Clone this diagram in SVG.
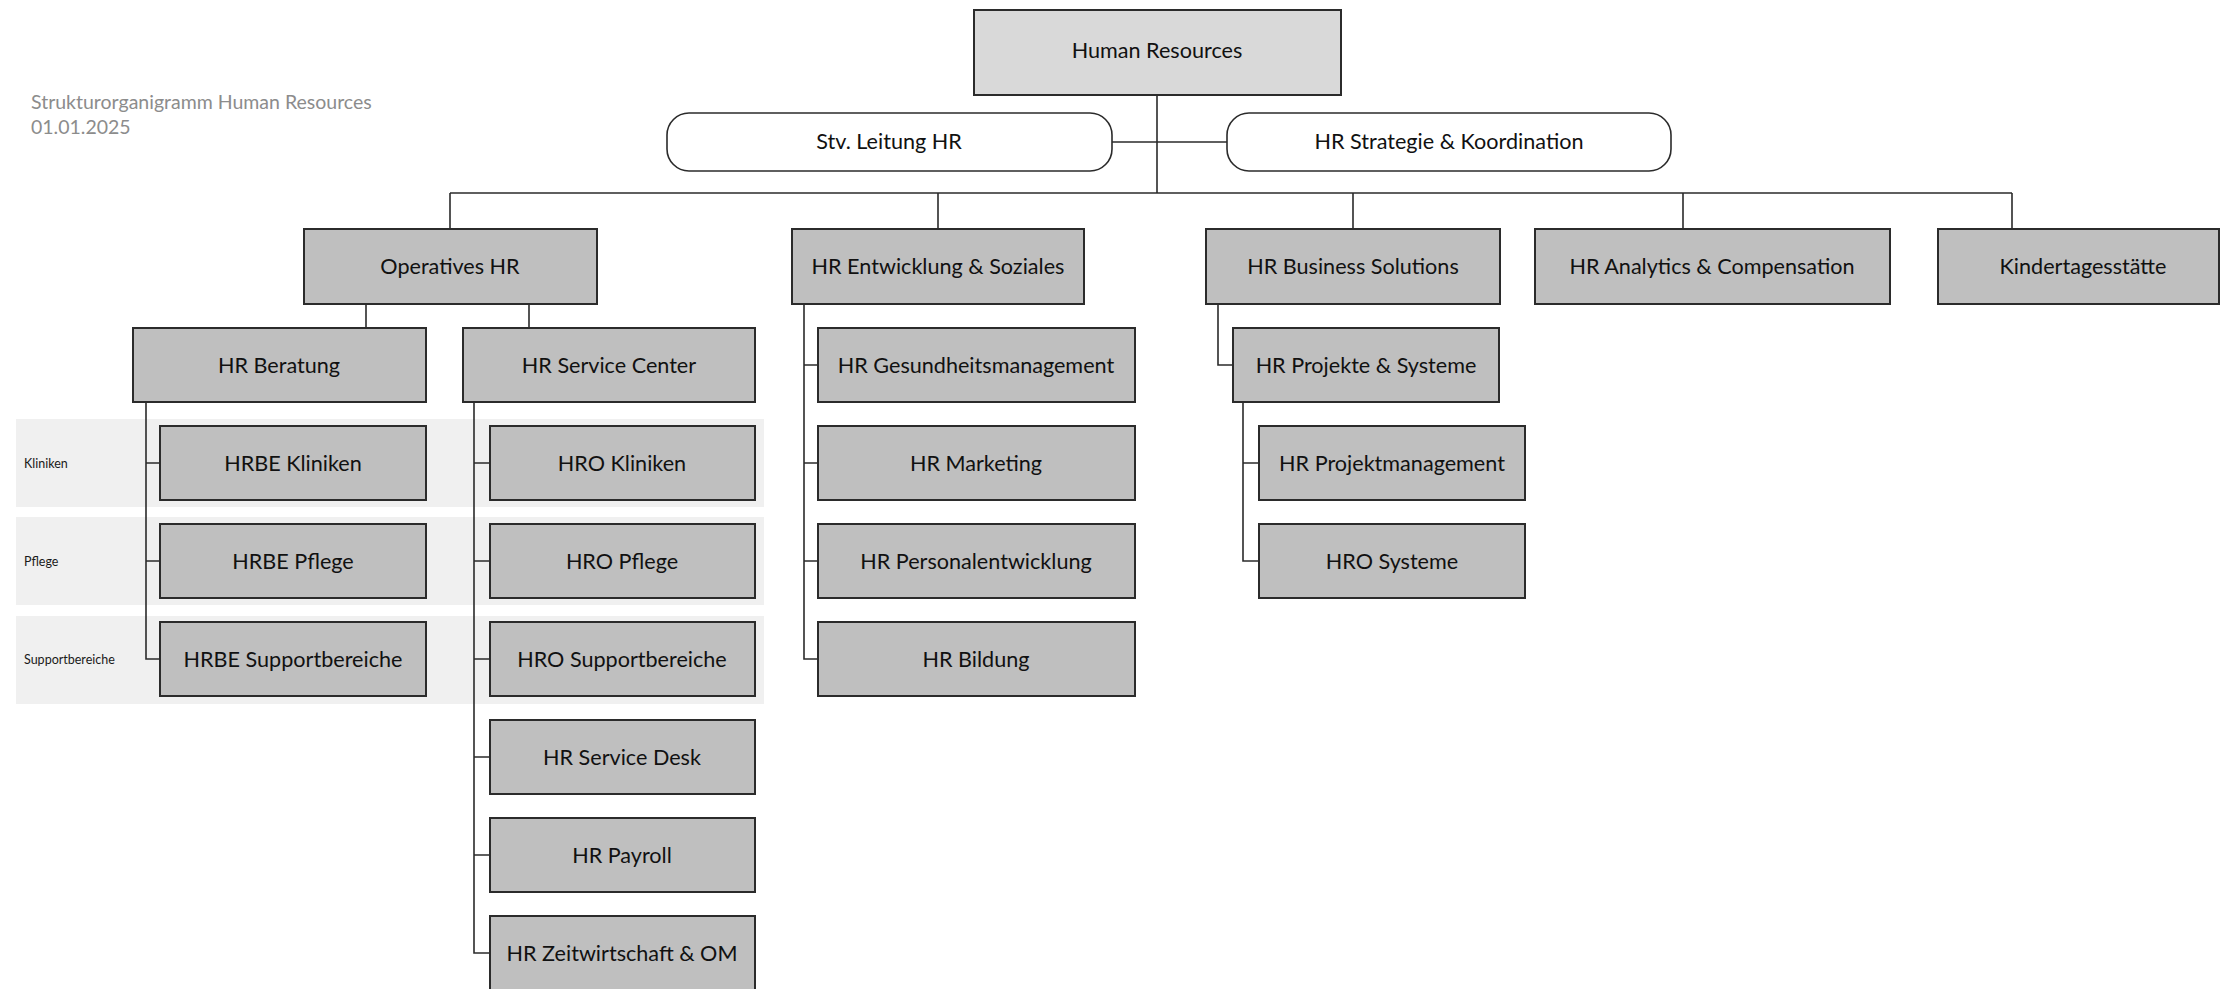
<svg xmlns="http://www.w3.org/2000/svg" width="2220" height="989" viewBox="0 0 2220 989">
<style>
.box{fill:#bfbfbf;stroke:#2b2b2b;stroke-width:2}
.top{fill:#d9d9d9;stroke:#2b2b2b;stroke-width:2}
.staff{fill:#ffffff;stroke:#2b2b2b;stroke-width:1.6}
.t{font-family:Lato,"Open Sans","Liberation Sans",sans-serif;font-size:21.6px;fill:#111111;text-anchor:middle;dominant-baseline:central}
.lbl{font-family:Lato,"Open Sans","Liberation Sans",sans-serif;font-size:12.5px;fill:#1a1a1a;dominant-baseline:central}
.title{font-family:Lato,"Open Sans","Liberation Sans",sans-serif;font-size:19.5px;fill:#8c8c8c}
.band{fill:#f0f0f0}
.c{fill:none;stroke:#2b2b2b;stroke-width:1.6}
</style>
<rect width="2220" height="989" fill="#ffffff"/>
<g id="title">
<text class="title" x="31" y="109">Strukturorganigramm Human Resources</text>
<text class="title" x="31" y="134">01.01.2025</text>
</g>
<g id="bands">
<rect class="band" x="16" y="419" width="748" height="88"/>
<rect class="band" x="16" y="517" width="748" height="88"/>
<rect class="band" x="16" y="616" width="748" height="88"/>
<text class="lbl" x="24" y="463">Kliniken</text>
<text class="lbl" x="24" y="561">Pflege</text>
<text class="lbl" x="24" y="659">Supportbereiche</text>
</g>
<g id="connectors">
<path class="c" d="M1157 95V193M1112 142H1227M450 193H2012M450 193V229M938 193V229M1353 193V229M1683 193V229M2012 193V229"/>
<path class="c" d="M366 304V328M529 304V328"/>
<path class="c" d="M146 402V659H160M146 463H160M146 561H160"/>
<path class="c" d="M474 402V953H490M474 463H490M474 561H490M474 659H490M474 757H490M474 855H490"/>
<path class="c" d="M804 304V659H818M804 365H818M804 463H818M804 561H818"/>
<path class="c" d="M1218 304V365H1233"/>
<path class="c" d="M1243 402V561H1259M1243 463H1259"/>
</g>
<g id="n-hr"><rect class="top" x="974" y="10" width="367" height="85"/><text class="t" x="1157" y="50">Human Resources</text></g>
<g id="n-stv"><rect class="staff" x="667" y="113" width="445" height="58" rx="22"/><text class="t" x="889" y="141">Stv. Leitung HR</text></g>
<g id="n-strat"><rect class="staff" x="1227" y="113" width="444" height="58" rx="22"/><text class="t" x="1449" y="141">HR Strategie &amp; Koordination</text></g>
<g id="n-op"><rect class="box" x="304" y="229" width="293" height="75"/><text class="t" x="450" y="266">Operatives HR</text></g>
<g id="n-ent"><rect class="box" x="792" y="229" width="292" height="75"/><text class="t" x="938" y="266">HR Entwicklung &amp; Soziales</text></g>
<g id="n-bus"><rect class="box" x="1206" y="229" width="294" height="75"/><text class="t" x="1353" y="266">HR Business Solutions</text></g>
<g id="n-ana"><rect class="box" x="1535" y="229" width="355" height="75"/><text class="t" x="1712" y="266">HR Analytics &amp; Compensation</text></g>
<g id="n-kita"><rect class="box" x="1938" y="229" width="281" height="75"/><text class="t" x="2083" y="266">Kindertagesstätte</text></g>
<g id="n-ber"><rect class="box" x="133" y="328" width="293" height="74"/><text class="t" x="279" y="365">HR Beratung</text></g>
<g id="n-sc"><rect class="box" x="463" y="328" width="292" height="74"/><text class="t" x="609" y="365">HR Service Center</text></g>
<g id="n-hrbe-k"><rect class="box" x="160" y="426" width="266" height="74"/><text class="t" x="293" y="463">HRBE Kliniken</text></g>
<g id="n-hrbe-p"><rect class="box" x="160" y="524" width="266" height="74"/><text class="t" x="293" y="561">HRBE Pflege</text></g>
<g id="n-hrbe-s"><rect class="box" x="160" y="622" width="266" height="74"/><text class="t" x="293" y="659">HRBE Supportbereiche</text></g>
<g id="n-hro-k"><rect class="box" x="490" y="426" width="265" height="74"/><text class="t" x="622" y="463">HRO Kliniken</text></g>
<g id="n-hro-p"><rect class="box" x="490" y="524" width="265" height="74"/><text class="t" x="622" y="561">HRO Pflege</text></g>
<g id="n-hro-s"><rect class="box" x="490" y="622" width="265" height="74"/><text class="t" x="622" y="659">HRO Supportbereiche</text></g>
<g id="n-desk"><rect class="box" x="490" y="720" width="265" height="74"/><text class="t" x="622" y="757">HR Service Desk</text></g>
<g id="n-pay"><rect class="box" x="490" y="818" width="265" height="74"/><text class="t" x="622" y="855">HR Payroll</text></g>
<g id="n-zeit"><rect class="box" x="490" y="916" width="265" height="80"/><text class="t" x="622" y="953">HR Zeitwirtschaft &amp; OM</text></g>
<g id="n-ges"><rect class="box" x="818" y="328" width="317" height="74"/><text class="t" x="976" y="365">HR Gesundheitsmanagement</text></g>
<g id="n-mkt"><rect class="box" x="818" y="426" width="317" height="74"/><text class="t" x="976" y="463">HR Marketing</text></g>
<g id="n-pe"><rect class="box" x="818" y="524" width="317" height="74"/><text class="t" x="976" y="561">HR Personalentwicklung</text></g>
<g id="n-bil"><rect class="box" x="818" y="622" width="317" height="74"/><text class="t" x="976" y="659">HR Bildung</text></g>
<g id="n-proj"><rect class="box" x="1233" y="328" width="266" height="74"/><text class="t" x="1366" y="365">HR Projekte &amp; Systeme</text></g>
<g id="n-pm"><rect class="box" x="1259" y="426" width="266" height="74"/><text class="t" x="1392" y="463">HR Projektmanagement</text></g>
<g id="n-sys"><rect class="box" x="1259" y="524" width="266" height="74"/><text class="t" x="1392" y="561">HRO Systeme</text></g>
</svg>
